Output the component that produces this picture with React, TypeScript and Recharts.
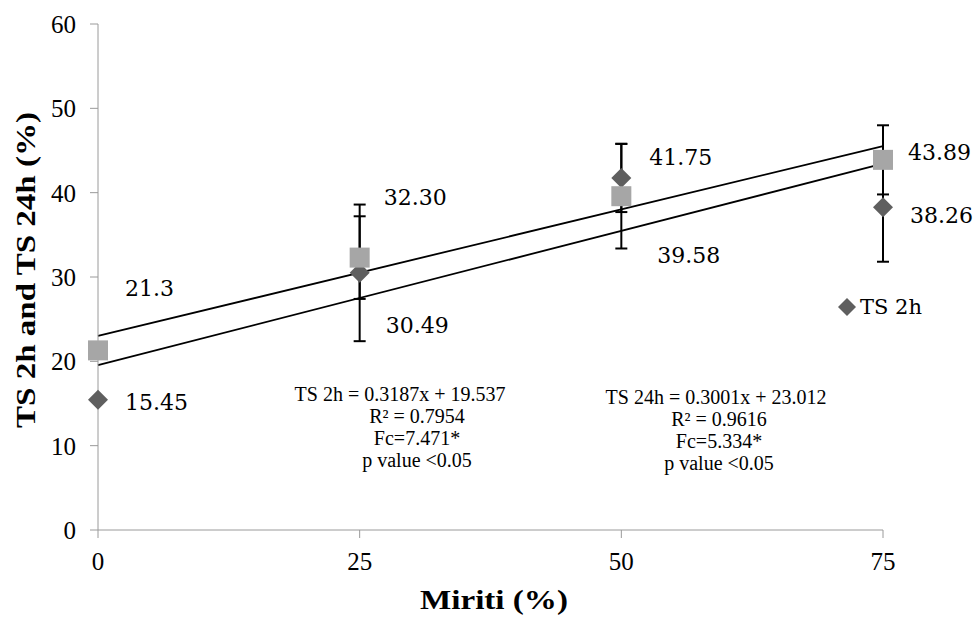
import React from 'react'
import {
  ScatterChart,
  Scatter,
  XAxis,
  YAxis,
  ErrorBar,
  ReferenceLine,
  Legend,
  Customized,
} from 'recharts'

const miriti = [0, 25, 50, 75]
const ts2h = [15.45, 30.49, 41.75, 38.26]
const ts24h = [21.3, 32.3, 39.58, 43.89]
const err2h = [0, 8.1, 4.05, 6.45]
const err24h = [0, 4.9, 6.2, 4.1]
const labels2h = ['15.45', '30.49', '41.75', '38.26']
const labels24h = ['21.3', '32.30', '39.58', '43.89']
const xTicks = [0, 25, 50, 75]
const yTicks = [0, 10, 20, 30, 40, 50, 60]

// regression lines as printed on the chart
const trend2h = { slope: 0.3187, intercept: 19.537 }
const trend24h = { slope: 0.3001, intercept: 23.012 }

const eq2h = ['TS 2h = 0.3187x + 19.537', 'R² = 0.7954', 'Fc=7.471*', 'p value <0.05']
const eq24h = ['TS 24h = 0.3001x + 23.012', 'R² = 0.9616', 'Fc=5.334*', 'p value <0.05']

const data2h = miriti.map((x, i) => ({ x, y: ts2h[i], err: err2h[i] }))
const data24h = miriti.map((x, i) => ({ x, y: ts24h[i], err: err24h[i] }))

// label offsets (text start / baseline) relative to each point
const off2h = [[27, 10], [26, 60], [28, -13], [27, 16]]
const off24h = [[27, -54], [24, -53], [36, 67], [25, 0]]

const DARK = '#5f5f5f'
const LIGHT = '#a6a6a6'
const AXIS = '#9a9a9a'
const labelFont = { fontFamily: '"DejaVu Serif"', fontSize: 22, fill: '#000' }
const serif = '"Liberation Serif", "Times New Roman", serif'

const Diamond = (props: any) => {
  const { cx, cy, payload } = props
  const i = miriti.indexOf(payload.x)
  const [dx, dy] = off2h[i]
  return (
    <g>
      <path d={`M${cx},${cy - 10}L${cx + 10},${cy}L${cx},${cy + 10}L${cx - 10},${cy}Z`} fill={DARK} />
      <text x={cx + dx} y={cy + dy} {...labelFont}>{labels2h[i]}</text>
    </g>
  )
}

const Square = (props: any) => {
  const { cx, cy, payload } = props
  const i = miriti.indexOf(payload.x)
  const [dx, dy] = off24h[i]
  return (
    <g>
      <rect x={cx - 10} y={cy - 10} width={20} height={20} fill={LIGHT} />
      <text x={cx + dx} y={cy + dy} {...labelFont}>{labels24h[i]}</text>
    </g>
  )
}

const LegendBox = () => (
  <div style={{ display: 'flex', alignItems: 'center', fontFamily: '"DejaVu Serif"', fontSize: 21 }}>
    <svg width={18} height={18} style={{ marginRight: 4 }}>
      <path d="M9,0L18,9L9,18L0,9Z" fill={DARK} />
    </svg>
    <span>TS 2h</span>
  </div>
)

const Annotations = () => (
  <g fontFamily={serif} fill="#000">
    <text
      x={35}
      y={270}
      transform="rotate(-90 35 270)"
      textAnchor="middle"
      fontSize={28}
      fontWeight="bold"
      textLength={316}
      lengthAdjust="spacingAndGlyphs"
    >
      TS 2h and TS 24h (%)
    </text>
    <text
      x={494}
      y={609}
      textAnchor="middle"
      fontSize={28}
      fontWeight="bold"
      textLength={148}
      lengthAdjust="spacingAndGlyphs"
    >
      Miriti (%)
    </text>
    {eq2h.map((t, i) => (
      <text key={t} x={i === 0 ? 400 : 417} y={401 + i * 22} textAnchor="middle" fontSize={20}>
        {t}
      </text>
    ))}
    {eq24h.map((t, i) => (
      <text key={t + 'b'} x={i === 0 ? 716 : 719} y={404 + i * 22} textAnchor="middle" fontSize={20}>
        {t}
      </text>
    ))}
  </g>
)

export default function App() {
  return (
    <div style={{ position: 'absolute', left: 0, top: 0, background: '#fff' }}>
      <ScatterChart width={976} height={617} margin={{ top: 24, right: 93, left: 0, bottom: 0 }}>
        <XAxis
          type="number"
          dataKey="x"
          domain={[0, 75]}
          ticks={xTicks}
          height={87}
          stroke={AXIS}
          tickSize={8}
          tickMargin={14}
          tick={{ fill: '#000', fontSize: 25, fontFamily: serif }}
        />
        <YAxis
          type="number"
          dataKey="y"
          domain={[0, 60]}
          ticks={yTicks}
          width={98}
          stroke={AXIS}
          tickSize={8}
          tickMargin={14}
          tick={{ fill: '#000', fontSize: 25, fontFamily: serif }}
        />
        <Scatter name="TS 2h" data={data2h} shape={Diamond} isAnimationActive={false}>
          <ErrorBar dataKey="err" direction="y" width={6} stroke="#000" strokeWidth={2} />
        </Scatter>
        <Scatter name="TS 24h" data={data24h} shape={Square} isAnimationActive={false}>
          <ErrorBar dataKey="err" direction="y" width={6} stroke="#000" strokeWidth={2} />
        </Scatter>
        <ReferenceLine
          segment={[
            { x: 0, y: trend2h.intercept },
            { x: 75, y: trend2h.intercept + trend2h.slope * 75 },
          ]}
          stroke="#000"
          strokeWidth={1.8}
          ifOverflow="visible"
        />
        <ReferenceLine
          segment={[
            { x: 0, y: trend24h.intercept },
            { x: 75, y: trend24h.intercept + trend24h.slope * 75 },
          ]}
          stroke="#000"
          strokeWidth={1.8}
          ifOverflow="visible"
        />
        <Legend
          verticalAlign="middle"
          align="center"
          layout="horizontal"
          content={LegendBox}
          wrapperStyle={{ left: 838, top: 295, width: 100, height: 26 }}
        />
        <Customized component={Annotations} />
      </ScatterChart>
    </div>
  )
}
